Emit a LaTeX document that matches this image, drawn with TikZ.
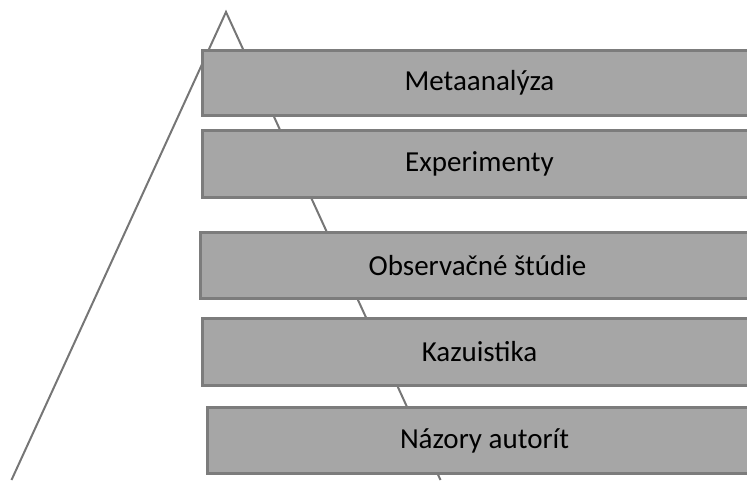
\documentclass[tikz,border=0pt]{standalone}
\usepackage{fontspec}
\setmainfont{Carlito}
\definecolor{boxfill}{HTML}{A6A6A6}
\definecolor{boxline}{HTML}{7C7C7C}
\definecolor{triline}{HTML}{767676}
\tikzset{
  levelbox/.style={draw=boxline, line width=3pt, fill=boxfill, anchor=north west,
    inner sep=0pt, font=\fontsize{29}{34}\selectfont, text=black},
  triside/.style={draw=triline, line width=2pt}
}
\begin{document}
\begin{tikzpicture}[x=1pt,y=-1pt]
\useasboundingbox (0,0) rectangle (747,480);
\coordinate (apex) at (226,12);
\coordinate (bl) at (11.5,480);
\coordinate (br) at (440.5,480);
\draw[triside] (bl) -- (apex) -- (br);
\node[levelbox, minimum width=554pt, minimum height=65pt] (b1) at (201,49) {Metaanalýza};
\node[levelbox, minimum width=554pt, minimum height=67pt] (b2) at (201,129) {Experimenty};
\node[levelbox, minimum width=554pt, minimum height=66pt] (b3) at (199,231) {Observačné štúdie};
\node[levelbox, minimum width=554pt, minimum height=67pt] (b4) at (201,317) {Kazuistika};
\node[levelbox, minimum width=554pt, minimum height=66pt] (b5) at (206,406) {Názory autorít};
\end{tikzpicture}
\end{document}
